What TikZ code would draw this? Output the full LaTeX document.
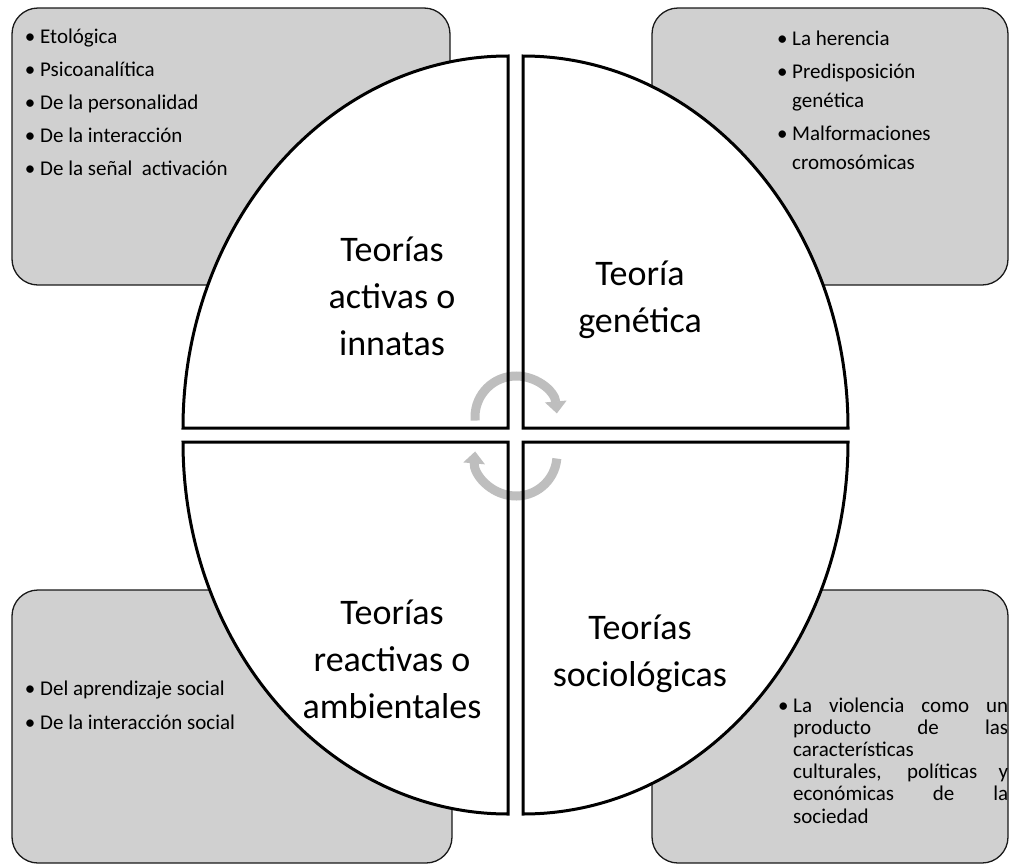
\documentclass[tikz,border=0pt]{standalone}
\usepackage{fontspec}
\setmainfont{Carlito}
\usetikzlibrary{arrows.meta}
\definecolor{boxgray}{RGB}{208,208,208}
\definecolor{cycgray}{RGB}{190,190,190}
\newcommand{\itm}{\leavevmode\llap{\textbullet\ }}
\tikzset{
  sidebox/.style={draw=black!90, line width=1.3pt, fill=boxgray, rounded corners=26pt},
  quarter/.style={draw=black, line width=3pt},
  cyc/.style    ={draw=cycgray, line width=9pt, -{Triangle[width=21pt,length=12pt]}},
  lbl/.style    ={inner sep=0pt, anchor=base, font=\fontsize{36}{47}\selectfont},
  lst/.style    ={inner sep=0pt, anchor=base west, font=\fontsize{21}{29}\selectfont}
}

\begin{document}
\begin{tikzpicture}[x=1pt, y=-1pt]
\useasboundingbox (0,0) rectangle (1010,865);
\draw[sidebox] (12,8) rectangle (450,285);
\draw[sidebox] (652,8) rectangle (1008,285);
\draw[sidebox] (12,590) rectangle (452,863);
\draw[sidebox] (652,590) rectangle (1008,863);
\foreach \cx/\cy/\a in {508/428/180, 523/428/270, 523/442/0, 508/442/90}
  \fill[white] (\cx,\cy) -- ++(\a:325 and 372)
    arc[start angle=\a, delta angle=90, x radius=325, y radius=372] -- cycle;
\coordinate (hubtop) at (516,417);
\coordinate (hubbot) at (516,455);
\draw[cyc] ([shift={(175:41)}]hubtop) arc[start angle=175, end angle=355, radius=41];
\draw[cyc] ([shift={(5:41)}]hubbot) arc[start angle=5, end angle=185, radius=41];
\foreach \cx/\cy/\a in {508/428/180, 523/428/270, 523/442/0, 508/442/90}
  \draw[quarter] (\cx,\cy) -- ++(\a:325 and 372)
    arc[start angle=\a, delta angle=90, x radius=325, y radius=372] -- cycle;
\node[lbl] (activas) at (392,261) {\parbox[t]{240pt}{\centering Teorías\\activas o\\innatas}};
\node[lbl] (genetica) at (640,285) {\parbox[t]{240pt}{\centering Teoría\\genética}};
\node[lbl] (reactivas) at (392,624) {\parbox[t]{240pt}{\centering Teorías\\reactivas o\\ambientales}};
\node[lbl] (sociologicas) at (640,639) {\parbox[t]{240pt}{\centering Teorías\\sociológicas}};
\node[lst] (listactivas) at (40,43) {\parbox[t]{380pt}{%
  \itm Etológica\\[4pt]
  \itm Psicoanalítica\\[4pt]
  \itm De la personalidad\\[4pt]
  \itm De la interacción\\[4pt]
  \itm De la señal\ \ activación}};
\node[lst] (listgenetica) at (792,45) {\parbox[t]{200pt}{%
  \itm La herencia\\[4pt]
  \itm Predisposición\\
  genética\\[4pt]
  \itm Malformaciones\\
  cromosómicas}};
\node[lst] (listreactivas) at (40,695) {\parbox[t]{380pt}{%
  \itm Del aprendizaje social\\[5pt]
  \itm De la interacción social}};
\node[lst, font=\fontsize{21}{22.2}\selectfont] (listsocio) at (793,712) {\parbox[t]{215pt}{%
  \itm\makebox[215pt][s]{La violencia como un}\\
  \makebox[215pt][s]{producto de las}\\
  características\\
  \makebox[215pt][s]{culturales, políticas y}\\
  \makebox[215pt][s]{económicas de la}\\
  sociedad}};
\end{tikzpicture}
\end{document}
